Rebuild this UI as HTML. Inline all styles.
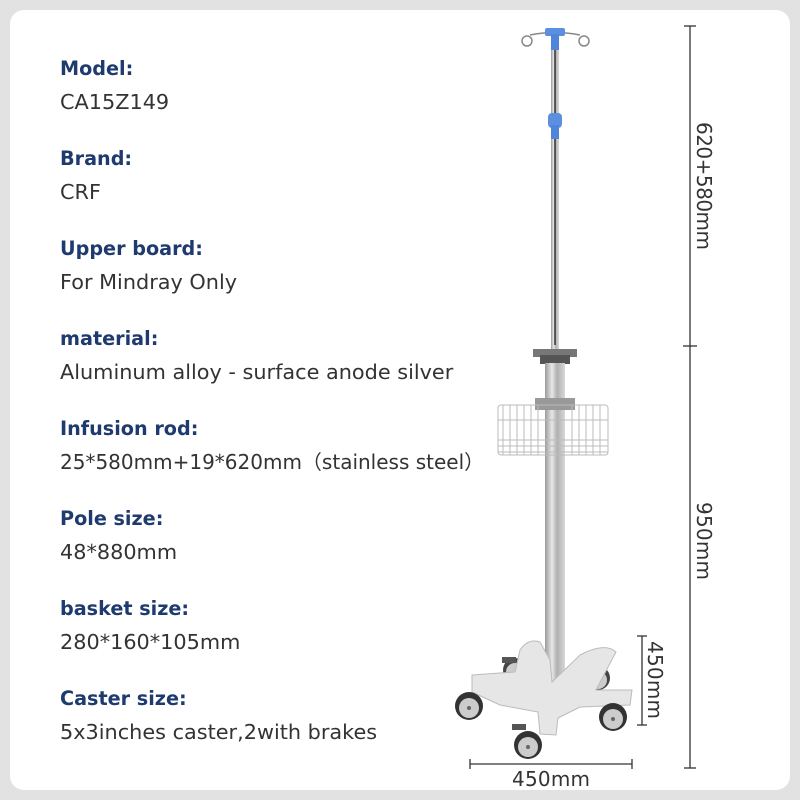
<!DOCTYPE html>
<html><head><meta charset="utf-8"><style>
html,body{margin:0;padding:0}
body{width:800px;height:800px;background:#e2e2e2;position:relative;overflow:hidden;font-family:"DejaVu Sans",sans-serif}
.card{position:absolute;left:10px;top:10px;width:780px;height:780px;background:#fff;border-radius:14px}
.l{position:absolute;left:60px;font-size:19.2px;font-weight:bold;color:#1e3a6e;line-height:20px}
.v{position:absolute;left:60px;font-size:20.8px;color:#333;line-height:20px;white-space:nowrap}
</style></head><body>
<div class="card"></div>
<div class="l" style="top:59px">Model:</div><div class="v" style="top:92px">CA15Z149</div>
<div class="l" style="top:149px">Brand:</div><div class="v" style="top:182px">CRF</div>
<div class="l" style="top:239px">Upper board:</div><div class="v" style="top:272px">For Mindray Only</div>
<div class="l" style="top:329px">material:</div><div class="v" style="top:362px">Aluminum alloy - surface anode silver</div>
<div class="l" style="top:419px">Infusion rod:</div><div class="v" style="top:452px;font-size:20px">25*580mm+19*620mm（stainless steel）</div>
<div class="l" style="top:509px">Pole size:</div><div class="v" style="top:542px">48*880mm</div>
<div class="l" style="top:599px">basket size:</div><div class="v" style="top:632px">280*160*105mm</div>
<div class="l" style="top:689px">Caster size:</div><div class="v" style="top:722px">5x3inches caster,2with brakes</div>
<svg width="800" height="800" style="position:absolute;left:0;top:0" font-family="DejaVu Sans, sans-serif">
<defs><linearGradient id="g" x1="0" x2="1"><stop offset="0" stop-color="#9a9a9a"/><stop offset=".35" stop-color="#e8e8e8"/><stop offset=".6" stop-color="#b0b0b0"/><stop offset="1" stop-color="#d8d8d8"/></linearGradient></defs>
<g stroke="#333" stroke-width="1.3">
<line x1="690" y1="26" x2="690" y2="768"/><line x1="684" y1="26" x2="696" y2="26"/><line x1="683" y1="346" x2="697" y2="346"/><line x1="684" y1="768" x2="696" y2="768"/>
<line x1="642" y1="636" x2="642" y2="725"/><line x1="637" y1="636" x2="647" y2="636"/><line x1="637" y1="725" x2="647" y2="725"/>
<line x1="470" y1="764" x2="632" y2="764"/><line x1="470" y1="759" x2="470" y2="769"/><line x1="632" y1="759" x2="632" y2="769"/>
</g>
<g font-size="20" fill="#333">
<text transform="translate(697,122) rotate(90)" textLength="128">620+580mm</text>
<text transform="translate(697,502) rotate(90)" textLength="78">950mm</text>
<text transform="translate(648,641) rotate(90)" textLength="78">450mm</text>
<text x="512" y="786" textLength="78">450mm</text>
</g>
<rect x="551" y="40" width="8" height="310" fill="url(#g)"/>
<line x1="555" y1="40" x2="555" y2="345" stroke="#333" stroke-width="1.5"/>
<path d="M530 35 Q555 30 580 35" stroke="#888" fill="none" stroke-width="1.5"/>
<circle cx="527" cy="41" r="5" stroke="#888" fill="none" stroke-width="1.5"/>
<circle cx="584" cy="41" r="5" stroke="#888" fill="none" stroke-width="1.5"/>
<rect x="545" y="28" width="20" height="8" rx="2" fill="#5b8fe0"/>
<rect x="551" y="34" width="8" height="16" fill="#4f86dc"/>
<rect x="548" y="113" width="14" height="15" rx="4" fill="#5b8fe0"/>
<rect x="551" y="125" width="8" height="14" fill="#4f86dc"/>
<rect x="533" y="349" width="44" height="8" fill="#777"/>
<rect x="540" y="355" width="30" height="9" fill="#555"/>
<rect x="545" y="363" width="20" height="330" fill="url(#g)"/>
<rect x="535" y="398" width="40" height="12" fill="#999"/>
<g stroke="#bbb" stroke-width="1" fill="none">
<rect x="498" y="405" width="110" height="50" rx="3"/>
<path d="M503 405v50M510 405v50M517 405v50M524 405v50M531 405v50M538 405v50M572 405v50M579 405v50M586 405v50M593 405v50M600 405v50"/>
<path d="M498 420h110M498 440h110M498 446h110M498 452h110"/>
</g>
<g>
<circle cx="515" cy="670" r="12" fill="#444"/><circle cx="515" cy="672" r="9" fill="#ccc"/>
<circle cx="598" cy="678" r="12" fill="#444"/><circle cx="598" cy="680" r="9" fill="#ccc"/>
</g>
<g fill="#e6e6e6" stroke="#bbb">
<path d="M472 675 L515 672 L520 650 Q528 638 540 642 L550 660 L552 682 L580 655 Q605 642 616 652 L596 690 L632 690 L630 705 L580 707 L558 718 L556 735 L540 734 L538 712 L500 705 L472 692 Z"/>
</g>
<g>
<circle cx="469" cy="706" r="14" fill="#333"/><circle cx="469" cy="708" r="10" fill="#ccc"/><circle cx="469" cy="708" r="2" fill="#666"/>
<circle cx="613" cy="717" r="14" fill="#333"/><circle cx="613" cy="719" r="10" fill="#ccc"/><circle cx="613" cy="719" r="2" fill="#666"/>
<circle cx="528" cy="745" r="14" fill="#333"/><circle cx="528" cy="747" r="10" fill="#ccc"/><circle cx="528" cy="747" r="2" fill="#666"/>
<rect x="512" y="724" width="14" height="6" fill="#555"/>
<rect x="502" y="657" width="14" height="6" fill="#555"/>
</g>
</svg>
</body></html>
